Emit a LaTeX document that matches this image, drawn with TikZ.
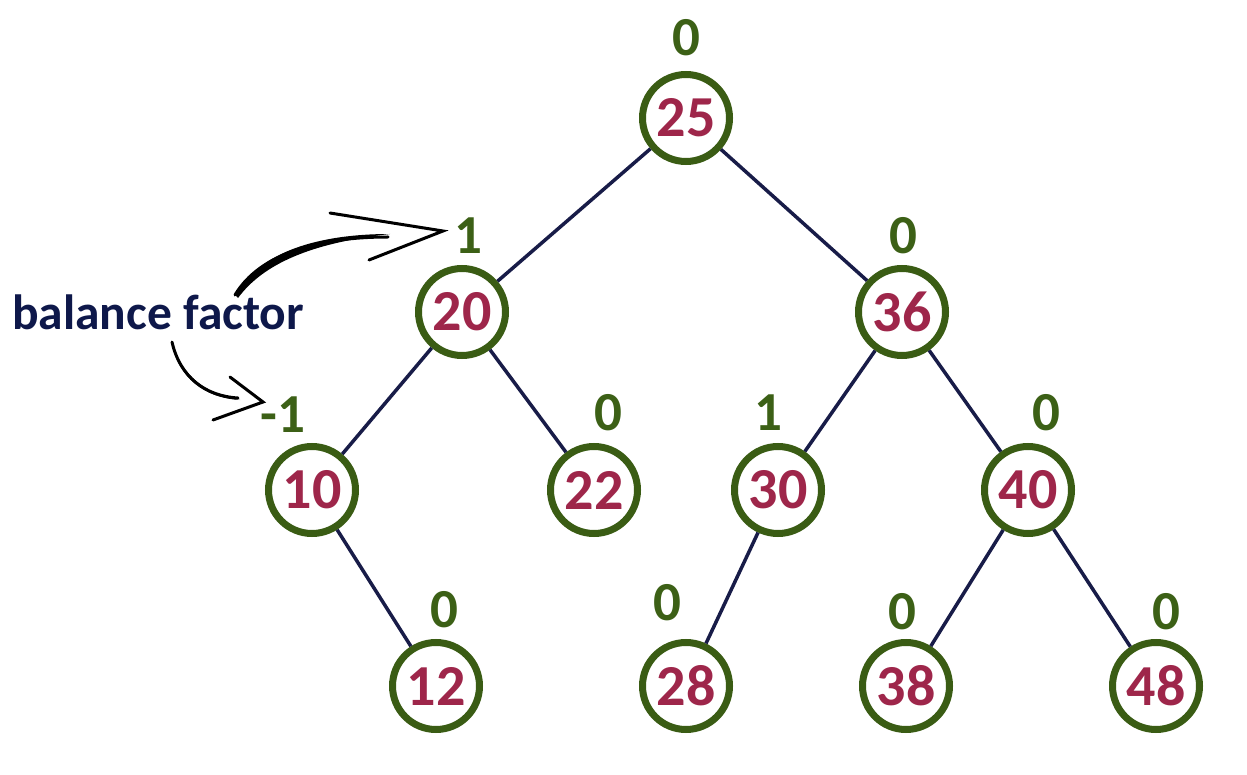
\documentclass[tikz,border=0pt]{standalone}
\usepackage{fontspec}
\setmainfont{Carlito}
\definecolor{ringgreen}{RGB}{58,92,20}
\definecolor{bfgreen}{RGB}{60,96,22}
\definecolor{numred}{RGB}{158,38,74}
\definecolor{edgenavy}{RGB}{24,28,72}
\definecolor{textnavy}{RGB}{14,24,74}
\tikzset{
  tnode/.style={circle, draw=ringgreen, line width=7pt, minimum size=87pt, inner sep=0pt, fill=white,
    text=numred, font=\fontsize{58}{68}\selectfont\bfseries},
  bf/.style={text=bfgreen, inner sep=0pt, font=\fontsize{55}{64}\selectfont\bfseries},
  edge/.style={draw=edgenavy, line width=3.5pt},
  pointer/.style={draw=black, line width=3pt, line cap=round},
}
\begin{document}
\begin{tikzpicture}[x=1pt,y=-1pt]
\useasboundingbox (0,0) rectangle (1247,775);
% tree nodes
\node[tnode] (n25) at (686,118) {25};
\node[tnode] (n20) at (462,312) {20};
\node[tnode] (n36) at (902,312) {36};
\node[tnode] (n10) at (312,490) {10};
\node[tnode] (n22) at (594,490) {22};
\node[tnode] (n30) at (778,490) {30};
\node[tnode] (n40) at (1028,490) {40};
\node[tnode] (n12) at (436,686) {12};
\node[tnode] (n28) at (686,686) {28};
\node[tnode] (n38) at (906,686) {38};
\node[tnode] (n48) at (1156,686) {48};
% edges
\draw[edge] (n25) -- (n20);
\draw[edge] (n25) -- (n36);
\draw[edge] (n20) -- (n10);
\draw[edge] (n20) -- (n22);
\draw[edge] (n10) -- (n12);
\draw[edge] (n36) -- (n30);
\draw[edge] (n36) -- (n40);
\draw[edge] (n30) -- (n28);
\draw[edge] (n40) -- (n38);
\draw[edge] (n40) -- (n48);
% balance factors
\node[bf] (b25) at (686,38) {0};
\node[bf] (b20) at (468,236) {1};
\node[bf] (b36) at (903,236) {0};
\node[bf] (b10) at (283,415) {-1};
\node[bf] (b22) at (608,413) {0};
\node[bf] (b30) at (768,413) {1};
\node[bf] (b40) at (1046,413) {0};
\node[bf] (b12) at (444,610) {0};
\node[bf] (b28) at (667,603) {0};
\node[bf] (b38) at (902,612) {0};
\node[bf] (b48) at (1166,612) {0};
% legend text
\node[anchor=base west, inner sep=0pt, text=textnavy, font=\fontsize{49.5}{58}\selectfont\bfseries] (legend) at (12,330) {balance factor};
% pointer arrows
\coordinate (tipA) at (443,231);
\coordinate (tipB) at (263,402);
\fill[black] (235,295) .. controls (260,251) and (320,234) .. (390,234)
  .. controls (320,242) and (266,260) .. (238,298) -- cycle;
\draw[pointer] (235,295) .. controls (260,253) and (320,237) .. (388,237);
\draw[pointer] (330,213) -- (tipA) -- (369,260);
\fill[black] (172,342) .. controls (178,378) and (205,398) .. (240,400)
  .. controls (205,394) and (182,376) .. (172,342) -- cycle;
\draw[pointer] (172,342) .. controls (180,377) and (205,396) .. (238,398);
\draw[pointer] (230,377) -- (tipB) -- (213,420);
\end{tikzpicture}
\end{document}
